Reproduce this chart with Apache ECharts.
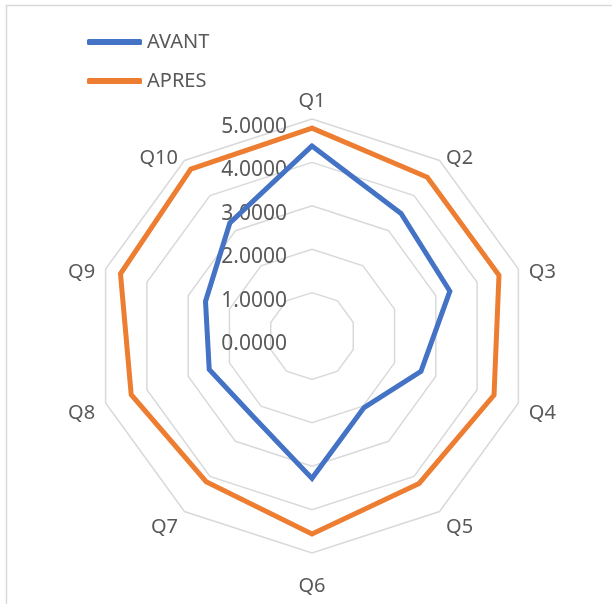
<!DOCTYPE html>
<html>
<head>
<meta charset="utf-8">
<script src="https://cdn.jsdelivr.net/npm/echarts@6/dist/echarts.min.js"></script>
<style>
  html, body { margin: 0; padding: 0; background: #ffffff; }
  #chart { width: 612px; height: 604px; }
</style>
</head>
<body>
<div id="chart"></div>
<script>
// Survey questions and mean scores before / after
const questions = ['Q1', 'Q2', 'Q3', 'Q4', 'Q5', 'Q6', 'Q7', 'Q8', 'Q9', 'Q10'];
const avant = [4.38, 3.49, 3.34, 2.64, 2.04, 3.28, 2.30, 2.49, 2.58, 3.22];
const apres = [4.79, 4.52, 4.53, 4.41, 4.20, 4.56, 4.15, 4.38, 4.64, 4.75];
const seriesNames = ['AVANT', 'APRES'];
const scaleMin = 0;
const scaleMax = 5;
const scaleSplits = 5;

const FONT = '"Noto Sans", "Liberation Sans", sans-serif';
const TEXT = '#595959';

// ECharts lays radar axes out counter-clockwise from the top;
// walk the questions in reverse after Q1 so they read clockwise.
const order = [0].concat(questions.map((_, i) => questions.length - 1 - i).slice(0, questions.length - 1));
const pick = arr => order.map(i => arr[i]);
// Axes pointing straight up / down (Q1, Q6) keep their names on one line;
// the side names get a blank first line so they sit a little lower.
const verticalAxes = [0, questions.length / 2];

const chart = echarts.init(document.getElementById('chart'), null, { renderer: 'canvas' });

// Only the vertical axis (Q1) carries the value labels
const indicators = order.map(i => {
  const ind = { name: questions[i], min: scaleMin, max: scaleMax };
  if (i === 0) {
    ind.axisLabel = {
      show: true,
      color: TEXT,
      fontFamily: FONT,
      fontSize: 21,
      margin: 25,
      verticalAlign: 'top',
      lineHeight: 16,
      formatter: v => Number(v).toFixed(4)
    };
  }
  return ind;
});

chart.setOption({
  animation: false,
  color: ['#4472C4', '#ED7D31'],
  graphic: [{
    type: 'rect',
    silent: true,
    z: -10,
    shape: { x: 6.5, y: 5.5, width: 800, height: 800 },
    style: { fill: 'none', stroke: '#D9D9D9', lineWidth: 1.5 }
  }],
  legend: {
    orient: 'vertical',
    left: 87,
    top: 32,
    padding: 0,
    itemWidth: 55,
    itemHeight: 6,
    itemGap: 19,
    data: seriesNames,
    textStyle: { color: TEXT, fontFamily: FONT, fontSize: 20 }
  },
  radar: {
    center: [312, 336],
    radius: 217,
    startAngle: 90,
    shape: 'polygon',
    splitNumber: scaleSplits,
    nameGap: 11,
    axisName: {
      color: TEXT,
      fontFamily: FONT,
      fontSize: 20,
      lineHeight: 14,
      padding: [15, 0, 0, 0],
      formatter: name => verticalAxes.indexOf(questions.indexOf(name)) >= 0 ? name : '\n' + name
    },
    indicator: indicators,
    splitLine: { lineStyle: { color: '#D9D9D9', width: 1.5 } },
    splitArea: { show: false },
    axisLine: { show: false },
    axisTick: { show: false },
    axisLabel: { show: false }
  },
  series: [{
    type: 'radar',
    symbol: 'none',
    lineStyle: { width: 5, cap: 'round', join: 'miter' },
    data: [
      { name: seriesNames[0], value: pick(avant) },
      { name: seriesNames[1], value: pick(apres) }
    ]
  }]
});
</script>
</body>
</html>
